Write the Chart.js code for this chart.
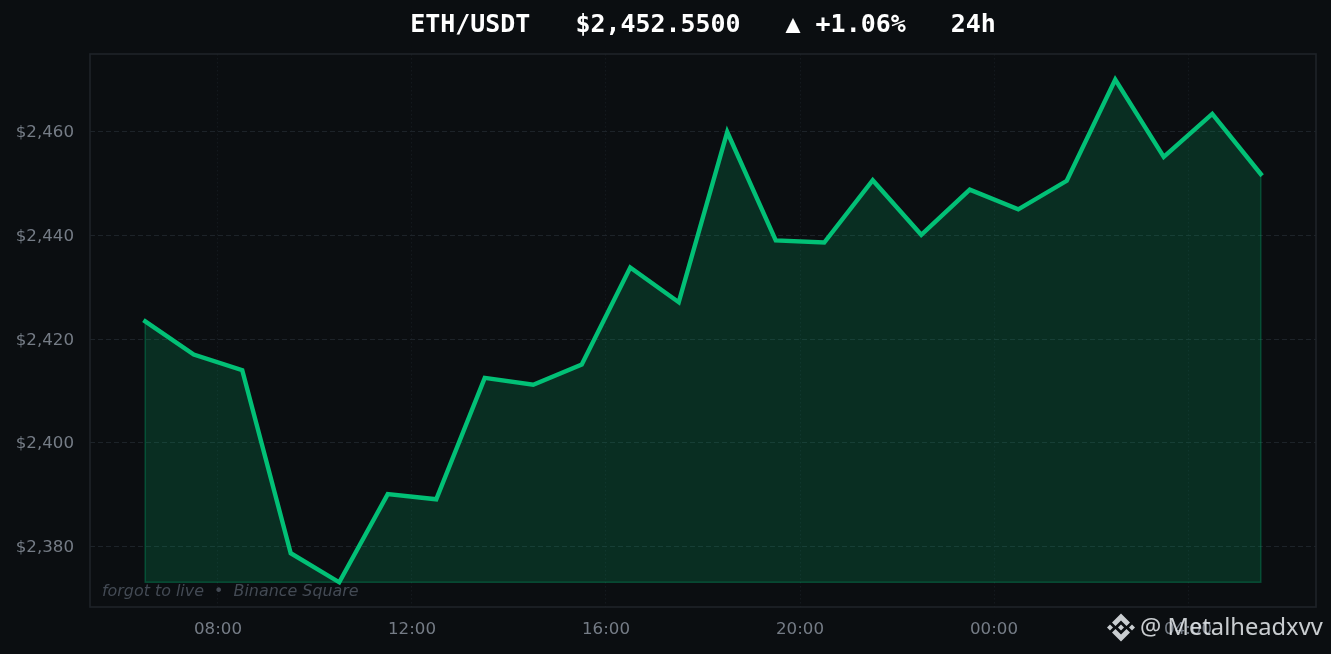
<!DOCTYPE html>
<html>
<head>
<meta charset="utf-8">
<script src="https://cdn.jsdelivr.net/npm/chart.js@4"></script>
<style>
html, body { margin: 0; padding: 0; background: #0b0e11; overflow: hidden; }
canvas { display: block; }
</style>
</head>
<body>
<canvas id="ethChart" width="1331" height="654"></canvas>
<script>
// hours since midnight of the first day, one point per hour
const hours = [6.5, 7.5, 8.5, 9.5, 10.5, 11.5, 12.5, 13.5, 14.5, 15.5, 16.5, 17.5,
               18.5, 19.5, 20.5, 21.5, 22.5, 23.5, 24.5, 25.5, 26.5, 27.5, 28.5, 29.5];
const prices = [2423.4, 2417.0, 2414.0, 2378.7, 2373.1, 2390.1, 2389.1, 2412.5, 2411.2, 2415.1, 2433.8, 2427.1,
                2459.9, 2439.0, 2438.6, 2450.6, 2440.1, 2448.8, 2445.0, 2450.5, 2470.0, 2455.1, 2463.4, 2451.8];
const priceTicks = [2380, 2400, 2420, 2440, 2460];
const hourTicks = [8, 12, 16, 20, 24, 28];
const titleText = 'ETH/USDT   $2,452.5500   ▲ +1.06%   24h';
const captionText = 'forgot to live  •  Binance Square';
const handleText = '@ Metalheadxvv';

const baseline = Math.min(...prices);
const linePoints = hours.map((h, i) => ({ x: h, y: prices[i] }));
const first = hours[0];
const last = hours[hours.length - 1];
// edge of the filled area, runs down, along the baseline and back up
const edge = [{ x: first, y: prices[0] }, { x: first, y: baseline }, { x: last, y: baseline }, { x: last, y: prices[prices.length - 1] }];

const hhmm = h => String(h % 24).padStart(2, '0') + ':00';
const usd = v => '$' + v.toLocaleString('en-US');

const frameAndText = {
  id: 'frameAndText',
  afterDraw(chart) {
    const { ctx, chartArea: a } = chart;
    ctx.save();
    ctx.strokeStyle = '#1e2329';
    ctx.lineWidth = 1.6;
    ctx.strokeRect(a.left, a.top, a.right - a.left, a.bottom - a.top);

    ctx.textBaseline = 'middle';
    ctx.textAlign = 'left';
    ctx.fillStyle = '#434a54';
    ctx.font = 'italic 15.9px "DejaVu Sans"';
    ctx.fillText(captionText, 102, 591.5);

    ctx.fillStyle = 'rgba(235,238,242,0.85)';
    ctx.font = '23.7px "Noto Sans"';
    ctx.fillText(handleText, 1140, 628);

    // exchange mark beside the handle
    const cx = 1121, cy = 627.5;
    const diamond = (x, y, r) => {
      ctx.beginPath();
      ctx.moveTo(x, y - r); ctx.lineTo(x + r, y); ctx.lineTo(x, y + r); ctx.lineTo(x - r, y);
      ctx.closePath();
      ctx.fill();
    };
    const chevron = (dir) => {
      ctx.beginPath();
      ctx.moveTo(cx, cy + dir * 14);
      ctx.lineTo(cx + 9, cy + dir * 5);
      ctx.lineTo(cx + 5.5, cy + dir * 1.5);
      ctx.lineTo(cx, cy + dir * 7);
      ctx.lineTo(cx - 5.5, cy + dir * 1.5);
      ctx.lineTo(cx - 9, cy + dir * 5);
      ctx.closePath();
      ctx.fill();
    };
    diamond(cx, cy, 3);
    diamond(cx - 11, cy, 3);
    diamond(cx + 11, cy, 3);
    chevron(-1);
    chevron(1);
    ctx.restore();
  }
};

new Chart(document.getElementById('ethChart'), {
  type: 'line',
  data: {
    datasets: [
      {
        data: linePoints,
        borderColor: '#02c076',
        borderWidth: 4.4,
        borderCapStyle: 'square',
        borderJoinStyle: 'miter',
        pointRadius: 0,
        tension: 0,
        fill: { value: baseline },
        backgroundColor: 'rgba(2,192,118,0.18)',
        order: 1
      },
      {
        data: edge,
        borderColor: 'rgba(2,192,118,0.3)',
        borderWidth: 1.6,
        pointRadius: 0,
        tension: 0,
        fill: false,
        order: 2
      }
    ]
  },
  options: {
    responsive: false,
    devicePixelRatio: 1,
    animation: false,
    layout: { padding: { left: 0, right: 15, top: 0, bottom: 0 } },
    plugins: {
      legend: { display: false },
      tooltip: { enabled: false },
      title: {
        display: true,
        text: titleText,
        color: '#ffffff',
        fullSize: false,
        font: { family: '"DejaVu Sans Mono"', size: 24.95, weight: 'bold', lineHeight: 1.2 },
        padding: { top: 11, bottom: 13.06 }
      }
    },
    scales: {
      x: {
        type: 'linear',
        min: 5.361,
        max: 30.639,
        afterBuildTicks: axis => { axis.ticks = hourTicks.map(v => ({ value: v })); },
        afterFit: axis => { axis.height = 47; },
        grid: { color: '#14191e', drawTicks: false, lineWidth: 1 },
        border: { display: false, dash: [1.5, 2.5] },
        ticks: {
          color: '#757c86',
          padding: 13,
          maxRotation: 0,
          autoSkip: false,
          font: { family: '"DejaVu Sans"', size: 16.67 },
          callback: v => hhmm(v)
        }
      },
      y: {
        min: 2368.34,
        max: 2474.94,
        afterBuildTicks: axis => { axis.ticks = priceTicks.map(v => ({ value: v })); },
        afterFit: axis => { axis.width = 90; },
        grid: { color: '#1d2329', drawTicks: false, lineWidth: 1 },
        border: { display: false, dash: [5, 3] },
        ticks: {
          color: '#757c86',
          padding: 16,
          autoSkip: false,
          labelOffset: 1.4,
          font: { family: '"DejaVu Sans"', size: 16.67 },
          callback: v => usd(v)
        }
      }
    }
  },
  plugins: [frameAndText]
});
</script>
</body>
</html>
